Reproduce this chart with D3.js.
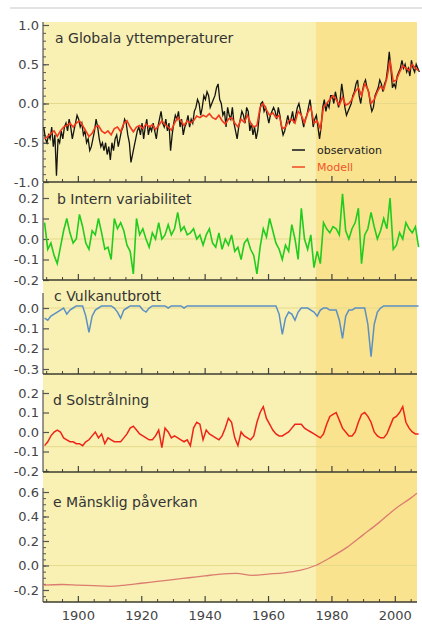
<!DOCTYPE html>
<html>
<head>
<meta charset="utf-8">
<script src="https://cdn.jsdelivr.net/npm/d3@7"></script>
<style>
  body { margin: 0; background: #fff; }
  .tick text { font-family: "DejaVu Sans", sans-serif; font-size: 13px; fill: #444; }
  .panelLabel { font-family: "DejaVu Sans", sans-serif; font-size: 14px; fill: #333; }
  .legendText { font-family: "DejaVu Sans", sans-serif; font-size: 11px; }
</style>
</head>
<body>
<div id="chart"></div>
<script>
// year range and the 1975 shading break
let yearStart = 1889;
let yearEnd = 2007;
let shadeFrom = 1975;

// a: observations, two values per year (first half, second half)
let obsValues = [
  -0.30,-0.45, -0.50,-0.40, -0.45,-0.30, -0.55,-0.40, -0.92,-0.45,
  -0.50,-0.35, -0.45,-0.30, -0.25,-0.35, -0.20,-0.30, -0.45,-0.35,
  -0.25,-0.15, -0.20,-0.30, -0.25,-0.40, -0.35,-0.50, -0.45,-0.60,
  -0.55,-0.45, -0.35,-0.20, -0.30,-0.45, -0.55,-0.50, -0.60,-0.50,
  -0.65,-0.55, -0.72,-0.50, -0.60,-0.45, -0.40,-0.55, -0.45,-0.35,
  -0.30,-0.20, -0.25,-0.40, -0.50,-0.75, -0.65,-0.55, -0.45,-0.35,
  -0.30,-0.40, -0.25,-0.45, -0.30,-0.20, -0.40,-0.30, -0.35,-0.25,
  -0.35,-0.45, -0.30,-0.20, -0.10,-0.25, -0.30,-0.20, -0.35,-0.25,
  -0.60,-0.40, -0.25,-0.15, -0.20,-0.10, -0.30,-0.20, -0.40,-0.30,
  -0.25,-0.15, -0.30,-0.20, -0.25,-0.10, -0.05, 0.05,  0.00,-0.15,
  -0.05, 0.10,  0.05, 0.15,  0.10,-0.05,  0.00, 0.05,  0.10, 0.20,
   0.25, 0.05,  0.00,-0.15, -0.10,-0.30, -0.05,-0.15, -0.20,-0.05,
  -0.25,-0.35, -0.45,-0.30, -0.20,-0.10, -0.15,-0.25, -0.05,-0.10,
  -0.35,-0.25, -0.40,-0.30, -0.45,-0.35, -0.15, 0.00,  0.02,-0.10,
  -0.05,-0.15, -0.25,-0.15, -0.10,-0.05, -0.10,-0.20, -0.05,-0.15,
  -0.30,-0.40, -0.35,-0.25, -0.15,-0.25, -0.20,-0.10, -0.25,-0.15,
  -0.05, 0.00, -0.10,-0.20, -0.30,-0.20, -0.15,-0.05,  0.05,-0.10,
  -0.30,-0.20, -0.15,-0.30, -0.45,-0.30, -0.05, 0.05, -0.10, 0.00,
  -0.05, 0.10,  0.10, 0.00,  0.15, 0.05, -0.05, 0.05,  0.25, 0.10,
  -0.05,-0.15, -0.10,-0.05,  0.00, 0.10,  0.15, 0.25,  0.30, 0.10,
   0.00, 0.15,  0.25, 0.30,  0.20, 0.15,  0.00,-0.10, -0.05, 0.10,
   0.15, 0.20,  0.30, 0.25,  0.15, 0.25,  0.30, 0.45,  0.66, 0.45,
   0.20, 0.25,  0.20, 0.35,  0.40, 0.45,  0.55, 0.45,  0.50, 0.40,
   0.45, 0.35,  0.55, 0.45,  0.40, 0.50,  0.45, 0.40
];

// a: model, one value per year
let modelValues = [
  -0.45,-0.42,-0.38,-0.35,-0.42,-0.35,-0.30,-0.28,-0.25,-0.30,
  -0.25,-0.22,-0.28,-0.35,-0.42,-0.38,-0.30,-0.28,-0.35,-0.38,
  -0.35,-0.40,-0.32,-0.30,-0.36,-0.25,-0.22,-0.30,-0.36,-0.30,
  -0.28,-0.32,-0.26,-0.30,-0.27,-0.33,-0.28,-0.22,-0.27,-0.30,
  -0.34,-0.25,-0.18,-0.22,-0.28,-0.22,-0.25,-0.22,-0.16,-0.18,
  -0.15,-0.17,-0.13,-0.18,-0.20,-0.15,-0.22,-0.26,-0.20,-0.18,
  -0.25,-0.30,-0.20,-0.24,-0.15,-0.25,-0.30,-0.28,-0.05, 0.00,
  -0.08,-0.15,-0.12,-0.18,-0.15,-0.32,-0.30,-0.22,-0.20,-0.25,
  -0.10,-0.15,-0.25,-0.12,-0.05,-0.25,-0.22,-0.32,-0.05, 0.00,
   0.05, 0.10, 0.05,-0.02, 0.08,-0.02, 0.00, 0.05, 0.15, 0.20,
   0.10, 0.25, 0.18, 0.00, 0.05, 0.15, 0.22, 0.18, 0.32, 0.55,
   0.28, 0.30, 0.40, 0.48, 0.45, 0.42, 0.50, 0.45, 0.42
];

// b: internal variability
let internValues = [
   0.08,-0.05,-0.02,-0.08,-0.12,-0.04, 0.04, 0.10, 0.03,-0.02,
   0.00, 0.12, 0.06,-0.02,-0.05, 0.04, 0.02, 0.10, 0.03,-0.05,
  -0.04,-0.10, 0.10, 0.05, 0.08, 0.04,-0.03,-0.06,-0.17, 0.10,
   0.02, 0.05, 0.00,-0.04, 0.03, 0.00, 0.08, 0.00, 0.02, 0.07,
   0.02, 0.05, 0.13, 0.04, 0.06, 0.02, 0.03, 0.05, 0.00, 0.02,
  -0.03, 0.02, 0.05,-0.02,-0.04, 0.03,-0.05, 0.00,-0.03, 0.02,
  -0.06,-0.04,-0.10,-0.02, 0.00,-0.05,-0.08,-0.17,-0.04, 0.05,
   0.01, 0.10, 0.04,-0.02,-0.05,-0.10,-0.03,-0.06, 0.07, 0.00,
  -0.10, 0.15, 0.00,-0.05, 0.02,-0.14,-0.06,-0.12, 0.08, 0.05,
   0.03, 0.06, 0.05, 0.02, 0.22, 0.04, 0.00, 0.05, 0.08, 0.15,
  -0.12, 0.02, 0.05, 0.13, 0.06, 0.00, 0.04, 0.10, 0.05, 0.20,
  -0.05,-0.03, 0.03, 0.00, 0.08, 0.05, 0.03, 0.06,-0.04
];

// c: volcanic eruptions
let volcanoValues = [
  -0.05,-0.06,-0.04,-0.03,-0.02,-0.01, 0.00,-0.03,-0.01, 0.00,
   0.01, 0.01, 0.01,-0.04,-0.12,-0.04,-0.01, 0.00, 0.01, 0.01,
   0.01, 0.01, 0.00,-0.02,-0.05,-0.01, 0.00, 0.01, 0.01, 0.01,
   0.01,-0.01,-0.02, 0.00, 0.01, 0.01, 0.01, 0.01, 0.01, 0.00,
   0.01, 0.01, 0.01, 0.01, 0.00, 0.01, 0.01, 0.01, 0.01, 0.01,
   0.01, 0.01, 0.01, 0.01, 0.01, 0.01, 0.01, 0.01, 0.01, 0.01,
   0.01, 0.01, 0.01, 0.01, 0.01, 0.01, 0.01, 0.01, 0.01, 0.01,
   0.01, 0.01, 0.01, 0.01,-0.03,-0.13,-0.05,-0.02,-0.03,-0.06,
  -0.02, 0.00, 0.00, 0.00,-0.01,-0.02,-0.04,-0.01, 0.00, 0.00,
  -0.01,-0.01,-0.01,-0.06,-0.15,-0.04,-0.01,-0.01, 0.00, 0.00,
   0.00, 0.00,-0.08,-0.24,-0.08,-0.02, 0.00, 0.01, 0.01, 0.01,
   0.01, 0.01, 0.01, 0.01, 0.01, 0.01, 0.01, 0.01, 0.01
];

// d: solar irradiance
let solarValues = [
  -0.07,-0.05,-0.02, 0.00, 0.01, 0.00,-0.03,-0.04,-0.05,-0.05,
  -0.06,-0.06,-0.07,-0.05,-0.04,-0.02, 0.00,-0.03,-0.01,-0.06,
  -0.03,-0.04,-0.05,-0.05,-0.05,-0.03,-0.01, 0.02, 0.03, 0.01,
  -0.01,-0.02,-0.03,-0.04,-0.04,-0.02, 0.01,-0.08, 0.02, 0.00,
  -0.03,-0.02,-0.03,-0.04,-0.05,-0.04,-0.07, 0.02, 0.05, 0.04,
  -0.04, 0.01,-0.01,-0.02,-0.03,-0.04,-0.02, 0.02, 0.07, 0.05,
  -0.03,-0.07, 0.00,-0.02,-0.03,-0.04,-0.02, 0.05, 0.10, 0.13,
   0.07, 0.04, 0.01,-0.01,-0.02,-0.02,-0.01, 0.00, 0.02, 0.04,
   0.04, 0.04, 0.02, 0.01, 0.00,-0.01,-0.02,-0.03,-0.01, 0.04,
   0.08, 0.09, 0.10, 0.06, 0.02, 0.00,-0.02,-0.02, 0.00, 0.05,
   0.09, 0.10, 0.08, 0.05, 0.00,-0.02,-0.03,-0.03,-0.01, 0.03,
   0.07, 0.08, 0.10, 0.13, 0.05, 0.02, 0.00,-0.01,-0.01
];

// e: human influence
let humanYears = [1889,1895,1900,1905,1910,1915,1920,1925,1930,1935,1940,1945,1950,1955,1960,1965,1970,1975,1980,1985,1990,1995,2000,2005,2007];
let humanValues = [-0.16,-0.155,-0.16,-0.165,-0.17,-0.16,-0.145,-0.13,-0.115,-0.10,-0.085,-0.07,-0.065,-0.08,-0.07,-0.06,-0.04,0.0,0.07,0.15,0.25,0.35,0.46,0.55,0.59];

// axis ticks
let yearTicks = [1900, 1920, 1940, 1960, 1980, 2000];
let legendNames = ['observation', 'Modell'];

let width = 422, height = 624;
let left = 43, right = 417, plotTop = 22, plotBottom = 602;

let svg = d3.select('#chart').append('svg')
    .attr('width', width)
    .attr('height', height);

let xScale = d3.scaleLinear()
    .domain([yearStart, yearEnd])
    .range([left, right]);

let years = d3.range(yearStart, yearEnd + 1);

// thin grey line on top
svg.append('line')
    .attr('x1', 10).attr('x2', width)
    .attr('y1', 8).attr('y2', 8)
    .attr('stroke', '#e2e2e2')
    .attr('stroke-width', 2);

// background shading
svg.append('rect')
    .attr('x', left).attr('y', plotTop)
    .attr('width', xScale(shadeFrom) - left)
    .attr('height', plotBottom - plotTop)
    .attr('fill', '#f8f1b3');
svg.append('rect')
    .attr('x', xScale(shadeFrom)).attr('y', plotTop)
    .attr('width', right - xScale(shadeFrom))
    .attr('height', plotBottom - plotTop)
    .attr('fill', '#f9e38e');

// panel layout: value/pixel pairs and axis extents
let panels = [
    {label: 'a Globala yttemperaturer', v: [-1, 1], px: [182, 25], axisTop: 22, axisBottom: 182,
     major: [-1, -0.5, 0, 0.5, 1], minorStep: 0.1, labelX: 55, labelY: 43, zero: [0]},
    {label: 'b Intern variabilitet', v: [-0.2, 0.2], px: [280, 198], axisTop: 183, axisBottom: 280,
     major: [-0.2, -0.1, 0, 0.1, 0.2], minorStep: null, labelX: 57, labelY: 204, zero: [0]},
    {label: 'c Vulkanutbrott', v: [-0.3, 0], px: [369, 308], axisTop: 293, axisBottom: 374,
     major: [-0.3, -0.2, -0.1, 0], minorStep: null, labelX: 54, labelY: 301, zero: [0]},
    {label: 'd Solstrålning', v: [-0.2, 0.2], px: [471, 393], axisTop: 390, axisBottom: 472,
     major: [-0.2, -0.1, 0, 0.1, 0.2], minorStep: null, labelX: 53, labelY: 405, zero: [-0.075]},
    {label: 'e Mänsklig påverkan', v: [-0.2, 0.6], px: [590, 492], axisTop: 488, axisBottom: 602,
     major: [-0.2, 0, 0.2, 0.4, 0.6], minorStep: 0.05, labelX: 53, labelY: 507, zero: [0]}
];

panels.forEach(p => {
    p.y = d3.scaleLinear().domain(p.v).range(p.px);
});

let fmt = d => d.toFixed(1);

panels.forEach((p, i) => {
    let g = svg.append('g');

    // faint reference lines
    g.selectAll('.zero')
        .data(p.zero)
        .join('line')
        .attr('x1', left).attr('x2', right)
        .attr('y1', d => p.y(d)).attr('y2', d => p.y(d))
        .attr('stroke', '#e6d98a')
        .attr('stroke-width', 1);

    // left axis line
    g.append('line')
        .attr('x1', left).attr('x2', left)
        .attr('y1', p.axisTop).attr('y2', p.axisBottom)
        .attr('stroke', '#555')
        .attr('stroke-width', 1.2);

    // minor ticks
    if (p.minorStep) {
        let lo = p.y.invert(p.axisBottom), hi = p.y.invert(p.axisTop);
        let minor = d3.range(Math.ceil(lo / p.minorStep - 1e-6), Math.floor(hi / p.minorStep + 1e-6) + 1)
            .map(k => k * p.minorStep);
        g.append('g')
            .attr('transform', `translate(${left},0)`)
            .call(d3.axisLeft(p.y).tickValues(minor).tickSize(-3).tickFormat(''))
            .call(a => a.select('.domain').remove())
            .call(a => a.selectAll('line').attr('stroke', '#555'));
    }

    // major ticks with labels
    g.append('g')
        .attr('transform', `translate(${left},0)`)
        .call(d3.axisLeft(p.y).tickValues(p.major).tickSize(-6).tickPadding(4).tickFormat(fmt))
        .call(a => a.select('.domain').remove())
        .call(a => a.selectAll('line').attr('stroke', '#555').attr('stroke-width', 1.2));

    // bottom axis, ticks pointing up
    let minorYears = d3.range(1890, yearEnd + 1, 5).filter(y => yearTicks.indexOf(y) < 0);
    g.append('g')
        .attr('transform', `translate(0,${p.axisBottom})`)
        .call(d3.axisBottom(xScale).tickValues(minorYears).tickSize(-3).tickFormat(''))
        .call(a => a.select('.domain').remove())
        .call(a => a.selectAll('line').attr('stroke', '#444'));
    let bottomAxis = g.append('g')
        .attr('transform', `translate(0,${p.axisBottom})`)
        .call(d3.axisBottom(xScale).tickValues(yearTicks).tickSize(-6).tickPadding(9)
            .tickFormat(i === panels.length - 1 ? d3.format('d') : ''));
    bottomAxis.select('.domain').remove();
    bottomAxis.selectAll('line').attr('stroke', '#444').attr('stroke-width', 1.2);
    g.append('line')
        .attr('x1', left).attr('x2', right)
        .attr('y1', p.axisBottom).attr('y2', p.axisBottom)
        .attr('stroke', '#3c3c30')
        .attr('stroke-width', 1.5);

    g.append('text')
        .classed('panelLabel', true)
        .attr('x', p.labelX)
        .attr('y', p.labelY)
        .text(p.label);
});

// series
let pa = panels[0], pb = panels[1], pc = panels[2], pd = panels[3], pe = panels[4];

let obsData = obsValues.map((v, i) => [yearStart + Math.floor(i / 2) + (i % 2 ? 0.75 : 0.25), v]);

let lineOf = (p) => d3.line()
    .x(d => xScale(d[0]))
    .y(d => p.y(d[1]));

svg.append('path')
    .datum(obsData)
    .attr('fill', 'none')
    .attr('stroke', '#151510')
    .attr('stroke-width', 1.3)
    .attr('d', lineOf(pa));

svg.append('path')
    .datum(modelValues.map((v, i) => [years[i] + 0.5, v]))
    .attr('fill', 'none')
    .attr('stroke', '#f2381e')
    .attr('stroke-width', 1.6)
    .attr('d', lineOf(pa));

svg.append('path')
    .datum(internValues.map((v, i) => [years[i] + 0.5, v]))
    .attr('fill', 'none')
    .attr('stroke', '#22cc1e')
    .attr('stroke-width', 1.6)
    .attr('d', lineOf(pb));

svg.append('path')
    .datum(volcanoValues.map((v, i) => [years[i] + 0.5, v]))
    .attr('fill', 'none')
    .attr('stroke', '#5b90c4')
    .attr('stroke-width', 1.5)
    .attr('d', lineOf(pc));

svg.append('path')
    .datum(solarValues.map((v, i) => [years[i] + 0.5, v]))
    .attr('fill', 'none')
    .attr('stroke', '#ee2418')
    .attr('stroke-width', 1.5)
    .attr('d', lineOf(pd));

svg.append('path')
    .datum(humanValues.map((v, i) => [humanYears[i], v]))
    .attr('fill', 'none')
    .attr('stroke', '#dc7c70')
    .attr('stroke-width', 1.3)
    .attr('d', lineOf(pe).curve(d3.curveMonotoneX));

// legend
let legendColors = ['#222', '#f2542c'];
let legend = svg.append('g')
    .selectAll('g')
    .data(legendNames)
    .join('g')
    .attr('transform', (d, i) => `translate(292,${150 + i * 17})`);
legend.append('line')
    .attr('x1', 0).attr('x2', 13)
    .attr('stroke', (d, i) => legendColors[i])
    .attr('stroke-width', 1.6);
legend.append('text')
    .classed('legendText', true)
    .attr('x', 25)
    .attr('dy', '0.35em')
    .attr('fill', (d, i) => legendColors[i])
    .text(d => d);
</script>
</body>
</html>
